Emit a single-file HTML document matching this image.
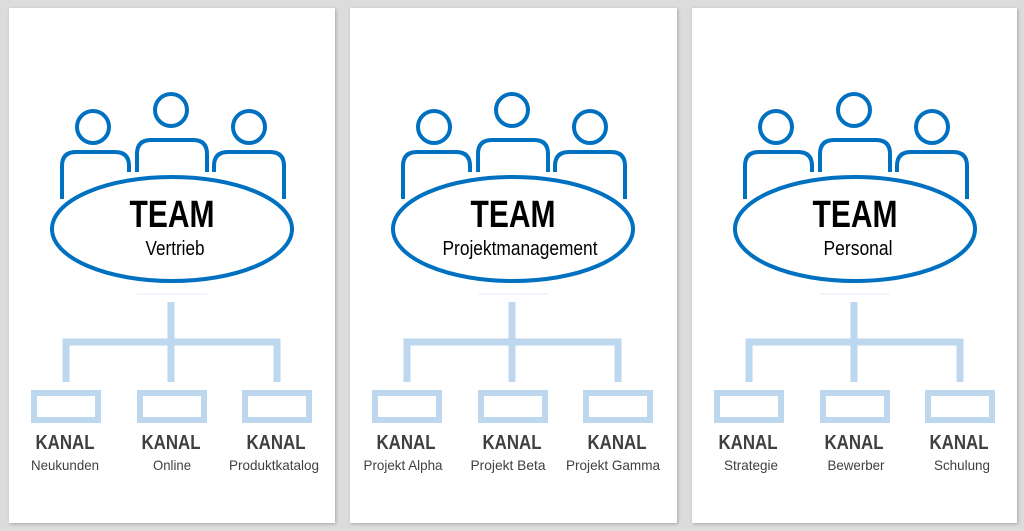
<!DOCTYPE html>
<html><head><meta charset="utf-8"><style>
body{margin:0;background:#dcdcdc;}
svg{display:block}
text{font-family:"Liberation Sans",Arial,sans-serif;}
</style></head><body>
<svg width="1024" height="531" viewBox="0 0 1024 531">
<defs>
<filter id="sh" x="-5%" y="-5%" width="110%" height="110%"><feDropShadow dx="1" dy="1" stdDeviation="1.5" flood-color="#000" flood-opacity="0.25"/></filter>
<g id="icon">
 <g fill="none" stroke="#0070c0" stroke-width="4">
  <circle cx="93" cy="127" r="16"/>
  <circle cx="171" cy="110" r="16"/>
  <circle cx="249" cy="127" r="16"/>
  <path d="M62 199 V166 Q62 152 76 152 H115 Q129 152 129 166 V172"/>
  <path d="M137 172 V154 Q137 140 151 140 H193 Q207 140 207 154 V172"/>
  <path d="M214 172 V166 Q214 152 228 152 H270 Q284 152 284 166 V199"/>
  <ellipse cx="172" cy="229" rx="120" ry="52" fill="#fff"/>
 </g>
 <text x="172" y="227" text-anchor="middle" font-size="38" font-weight="bold" fill="#000" textLength="85" lengthAdjust="spacingAndGlyphs">TEAM</text>
 <line x1="137" y1="294" x2="207" y2="294" stroke="#e3eef9" stroke-width="1"/>
 <g fill="none" stroke="#bdd7ee" stroke-width="7">
  <line x1="171" y1="302" x2="171" y2="382"/>
  <path d="M66 382 V342 H277 V382"/>
 </g>
 <g fill="none" stroke="#bdd7ee" stroke-width="6">
  <rect x="34" y="393" width="64" height="27"/>
  <rect x="140" y="393" width="64" height="27"/>
  <rect x="245" y="393" width="64" height="27"/>
 </g>
 <g text-anchor="middle" font-size="20" font-weight="bold" fill="#404040">
  <text x="65" y="449" textLength="59" lengthAdjust="spacingAndGlyphs">KANAL</text>
  <text x="171" y="449" textLength="59" lengthAdjust="spacingAndGlyphs">KANAL</text>
  <text x="276" y="449" textLength="59" lengthAdjust="spacingAndGlyphs">KANAL</text>
 </g>
</g>
</defs>
<rect x="9" y="8" width="326" height="515" fill="#fff" filter="url(#sh)"/>
<rect x="350" y="8" width="327" height="515" fill="#fff" filter="url(#sh)"/>
<rect x="692" y="8" width="325" height="515" fill="#fff" filter="url(#sh)"/>
<use href="#icon"/>
<use href="#icon" transform="translate(341,0)"/>
<use href="#icon" transform="translate(683,0)"/>
<g text-anchor="middle" font-size="20" fill="#000">
 <text x="175" y="255" textLength="59" lengthAdjust="spacingAndGlyphs">Vertrieb</text>
 <text x="520" y="255" textLength="155" lengthAdjust="spacingAndGlyphs">Projektmanagement</text>
 <text x="858" y="255" textLength="69" lengthAdjust="spacingAndGlyphs">Personal</text>
</g>
<g text-anchor="middle" font-size="14" fill="#404040">
 <text x="65" y="470" textLength="68" lengthAdjust="spacingAndGlyphs">Neukunden</text>
 <text x="172" y="470" textLength="38" lengthAdjust="spacingAndGlyphs">Online</text>
 <text x="274" y="470" textLength="90" lengthAdjust="spacingAndGlyphs">Produktkatalog</text>
 <text x="403" y="470" textLength="79" lengthAdjust="spacingAndGlyphs">Projekt Alpha</text>
 <text x="508" y="470" textLength="75" lengthAdjust="spacingAndGlyphs">Projekt Beta</text>
 <text x="613" y="470" textLength="94" lengthAdjust="spacingAndGlyphs">Projekt Gamma</text>
 <text x="751" y="470" textLength="54" lengthAdjust="spacingAndGlyphs">Strategie</text>
 <text x="856" y="470" textLength="57" lengthAdjust="spacingAndGlyphs">Bewerber</text>
 <text x="962" y="470" textLength="56" lengthAdjust="spacingAndGlyphs">Schulung</text>
</g>
</svg>
</body></html>
